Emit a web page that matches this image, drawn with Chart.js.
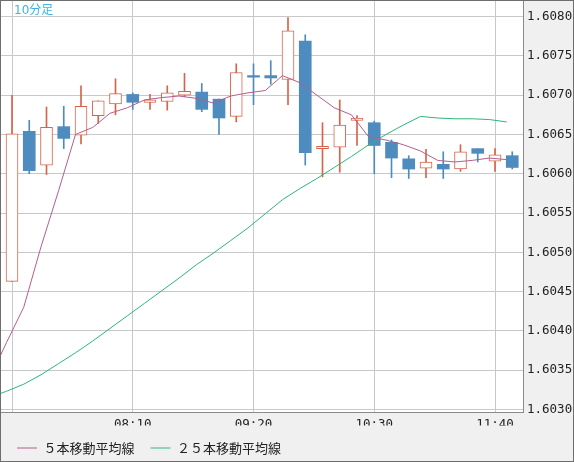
<!DOCTYPE html>
<html>
<head>
<meta charset="utf-8">
<script src="https://cdn.jsdelivr.net/npm/chart.js@4/dist/chart.umd.min.js"></script>
<style>
  html, body { margin: 0; padding: 0; background: #f0f0f0; }
  #wrap { width: 574px; height: 462px; }
</style>
</head>
<body>
<div id="wrap"><canvas id="myChart" width="574" height="462"></canvas></div>
<script>
// 10 minute bars, 07:00 .. 11:50
const times = ['07:00','07:10','07:20','07:30','07:40','07:50','08:00','08:10','08:20','08:30',
               '08:40','08:50','09:00','09:10','09:20','09:30','09:40','09:50','10:00','10:10',
               '10:20','10:30','10:40','10:50','11:00','11:10','11:20','11:30','11:40','11:50'];
const open  = [1.60463,1.60654,1.60611,1.60660,1.60649,1.60674,1.60689,1.60701,1.60691,1.60692,
               1.60700,1.60704,1.60695,1.60673,1.60725,1.60725,1.60720,1.60769,1.60632,1.60634,
               1.60668,1.60665,1.60640,1.60619,1.60607,1.60612,1.60606,1.60632,1.60616,1.60623];
const high  = [1.60700,1.60668,1.60685,1.60686,1.60712,1.60693,1.60721,1.60703,1.60701,1.60712,
               1.60728,1.60715,1.60695,1.60740,1.60740,1.60744,1.60799,1.60777,1.60665,1.60694,
               1.60674,1.60667,1.60643,1.60623,1.60631,1.60628,1.60637,1.60632,1.60632,1.60628];
const low   = [1.60463,1.60600,1.60599,1.60632,1.60638,1.60664,1.60675,1.60682,1.60682,1.60681,
               1.60698,1.60679,1.60650,1.60666,1.60688,1.60714,1.60688,1.60611,1.60596,1.60602,
               1.60636,1.60600,1.60595,1.60594,1.60595,1.60594,1.60603,1.60615,1.60603,1.60606];
const close = [1.60651,1.60604,1.60659,1.60645,1.60686,1.60693,1.60702,1.60691,1.60694,1.60703,
               1.60705,1.60682,1.60671,1.60729,1.60723,1.60722,1.60782,1.60627,1.60635,1.60662,
               1.60671,1.60636,1.60620,1.60606,1.60615,1.60606,1.60628,1.60626,1.60624,1.60608];

// moving averages, first value is the bar before 07:00 (06:50)
const ma5  = [1.60338,1.60385,1.60430,1.60507,1.60577,1.60650,1.60659,1.60677,1.60684,1.60694,1.60697,
              1.60699,1.60696,1.60690,1.60699,1.60703,1.60706,1.60725,1.60716,1.60700,1.60684,
              1.60675,1.60647,1.60643,1.60637,1.60629,1.60617,1.60615,1.60617,1.60620,1.60618];
const ma25 = [1.60315,1.60323,1.60332,1.60344,1.60358,1.60372,1.60387,1.60403,1.60419,1.60435,1.60451,
              1.60467,1.60484,1.60499,1.60515,1.60531,1.60549,1.60567,1.60581,1.60594,1.60608,
              1.60622,1.60637,1.60650,1.60662,1.60673,1.60671,1.60670,1.60670,1.60669,1.60666];

const xTicks = [0, 7, 14, 21, 28];
const yTicks = [1.6030, 1.6035, 1.6040, 1.6045, 1.6050, 1.6055, 1.6060, 1.6065, 1.6070, 1.6075, 1.6080];
const seriesNames = ['５本移動平均線', '２５本移動平均線'];
const chartTitle = '10分足';

const UP = '#d9634a', DOWN = '#4e8bbe';
const isUp = close.map((c, i) => c >= open[i]);

const wicks = times.map((t, i) => ({x: i, y: [low[i], high[i]]}));
const bodies = times.map((t, i) => ({x: i, y: [open[i], close[i]]}));
const maShift = 0.32;   // the averages sit a little left of the candle
const ma5Pts = ma5.map((v, i) => ({x: i - 1 - maShift, y: v}));
const ma25Pts = ma25.map((v, i) => ({x: i - 1 - maShift, y: v}));

const frame = {
  id: 'frame',
  beforeDraw(chart) {
    const {ctx, chartArea: a} = chart;
    ctx.save();
    ctx.fillStyle = '#f0f0f0';
    ctx.fillRect(0, 0, chart.width, chart.height);
    ctx.fillStyle = '#ffffff';
    ctx.fillRect(a.left, a.top, a.right - a.left, a.bottom - a.top);
    ctx.restore();
  },
  afterDraw(chart) {
    const {ctx, chartArea: a} = chart;
    ctx.save();
    ctx.strokeStyle = '#6e6e6e';
    ctx.lineWidth = 1;
    ctx.strokeRect(0.5, 0.5, chart.width - 1, chart.height - 1);
    ctx.fillStyle = '#3cb4e4';
    ctx.font = '12px "DejaVu Sans", "Noto Sans CJK JP"';
    ctx.textBaseline = 'middle';
    ctx.fillText(chartTitle, a.left + 13, a.top + 10);
    ctx.restore();
  }
};

const monoFont = {family: '"DejaVu Sans Mono", monospace', size: 12.5};
const noPad = s => { s.paddingTop = 0; s.paddingBottom = 0; s.paddingLeft = 0; s.paddingRight = 0; };

new Chart(document.getElementById('myChart'), {
  type: 'bar',
  data: {
    datasets: [
      {
        type: 'line', label: seriesNames[0], data: ma5Pts, order: 1,
        borderColor: '#b35f8c', backgroundColor: '#b35f8c', borderWidth: 1,
        pointRadius: 0, tension: 0
      },
      {
        type: 'line', label: seriesNames[1], data: ma25Pts, order: 1,
        borderColor: '#2db67a', backgroundColor: '#2db67a', borderWidth: 1,
        pointRadius: 0, tension: 0
      },
      {
        data: bodies, order: 2, grouped: false, barThickness: 12,
        backgroundColor: isUp.map(u => u ? '#ffffff' : DOWN),
        borderColor: isUp.map(u => u ? UP : DOWN),
        borderWidth: isUp.map(u => u ? 1 : 0),
        borderSkipped: false
      },
      {
        data: wicks, order: 3, grouped: false, barThickness: 1,
        backgroundColor: isUp.map(u => u ? UP : DOWN),
        borderWidth: 0
      }
    ]
  },
  options: {
    responsive: false,
    animation: false,
    layout: {padding: {left: 1, top: 1, right: 1, bottom: -2.5}},
    scales: {
      x: {
        type: 'linear',
        min: -0.638, max: 29.623,
        offset: false,
        afterFit: s => { s.height = 13.5; noPad(s); },
        afterBuildTicks: s => { s.ticks = xTicks.map(v => ({value: v})); },
        grid: {color: '#c8c8c8', drawTicks: false, offset: false},
        border: {color: '#8a8a8a'},
        ticks: {
          autoSkip: false, maxRotation: 0, padding: 5, color: '#222',
          font: monoFont,
          callback: v => (v === 0 ? '' : times[v])
        }
      },
      y: {
        position: 'right',
        min: 1.602966, max: 1.608200,
        afterFit: s => { s.width = 50; noPad(s); },
        afterBuildTicks: s => { s.ticks = yTicks.map(v => ({value: v})); },
        grid: {color: '#c8c8c8', drawTicks: false},
        border: {color: '#8a8a8a'},
        ticks: {padding: 4, color: '#222', font: monoFont, callback: v => v.toFixed(4)}
      }
    },
    plugins: {
      tooltip: {enabled: false},
      legend: {
        position: 'bottom',
        align: 'start',
        labels: {
          usePointStyle: true, pointStyle: 'line', pointStyleWidth: 20,
          padding: 16, color: '#222',
          font: {family: '"Noto Sans CJK JP", sans-serif', size: 13},
          filter: item => !!item.text
        }
      }
    }
  },
  plugins: [frame]
});
</script>
</body>
</html>
